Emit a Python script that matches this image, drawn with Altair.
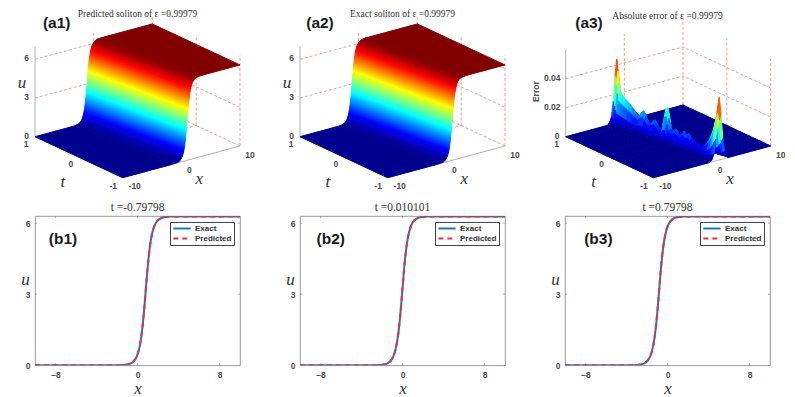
import altair as alt

# ---------- values ----------
profile_offset = [-3.0, -2.2, -1.8, -1.5, -1.3, -1.15, -1.0, -0.9, -0.83, -0.76, -0.70, -0.65, -0.60, -0.56, -0.52,
                  -0.48, -0.45, -0.42, -0.39, -0.36, -0.33, -0.30, -0.28, -0.26, -0.24, -0.22, -0.20, -0.18, -0.16,
                  -0.14, -0.12, -0.10, -0.08, -0.06, -0.04, -0.02, 0.0, 0.02, 0.04, 0.06, 0.08, 0.10, 0.12, 0.14,
                  0.16, 0.18, 0.20, 0.22, 0.24, 0.26, 0.28, 0.30, 0.33, 0.36, 0.39, 0.42, 0.45, 0.48, 0.52, 0.56,
                  0.60, 0.65, 0.70, 0.76, 0.83, 0.90, 1.0, 1.15, 1.3, 1.5, 1.8, 2.2, 3.0]
profile_u = [0.001, 0.010, 0.031, 0.069, 0.119, 0.180, 0.268, 0.351, 0.424, 0.513, 0.601, 0.685, 0.781, 0.868, 0.963,
             1.068, 1.152, 1.244, 1.343, 1.448, 1.556, 1.674, 1.756, 1.840, 1.928, 2.018, 2.110, 2.205, 2.304,
             2.403, 2.504, 2.608, 2.713, 2.819, 2.926, 3.034, 3.142, 3.250, 3.357, 3.464, 3.570, 3.675, 3.779, 3.880,
             3.979, 4.078, 4.173, 4.265, 4.355, 4.443, 4.527, 4.609, 4.727, 4.835, 4.940, 5.039, 5.131, 5.215, 5.320, 5.415,
             5.502, 5.598, 5.682, 5.770, 5.859, 5.932, 6.015, 6.103, 6.164, 6.214, 6.252, 6.273, 6.282]
u_left = 0.0
u_right = 6.283
front_centre = 1.0     # riser position at t = -1
back_centre = -1.1     # riser position at t = 1
slice_centres = [0.80, -0.02, -0.82]
slice_titles = ["t =-0.79798", "t =0.010101", "t =0.79798"]
surface_titles = ["Predicted soliton of ε =0.99979", "Exact soliton of ε =0.99979", "Absolute error of ε =0.99979"]

ridge_t = [1.0, 0.98, 0.96, 0.93, 0.88, 0.82, 0.75, 0.68, 0.62, 0.56, 0.51, 0.47, 0.43, 0.38, 0.33, 0.29, 0.25, 0.20,
           0.16, 0.11, 0.07, 0.04, 0.01, -0.01, -0.04, -0.09, -0.15, -0.20, -0.25, -0.31, -0.36, -0.40, -0.45, -0.52,
           -0.58, -0.64, -0.70, -0.76, -0.82, -0.88, -0.93, -0.97, -1.0]
ridge_x = [-1.3, -1.27, -1.25, -1.22, -1.15, -1.08, -1.0, -0.9, -0.82, -0.74, -0.67, -0.62, -0.57, -0.5, -0.44, -0.38,
           -0.33, -0.26, -0.21, -0.14, -0.09, -0.05, -0.01, 0.01, 0.05, 0.12, 0.2, 0.26, 0.33, 0.41, 0.47, 0.52, 0.59,
           0.68, 0.76, 0.84, 0.92, 0.99, 1.06, 1.13, 1.18, 1.2, 1.22]
ridge_err = [0.044, 0.036, 0.028, 0.022, 0.020, 0.018, 0.0165, 0.014, 0.012, 0.0105, 0.0135, 0.015, 0.012, 0.0085,
             0.0085, 0.0105, 0.0115, 0.009, 0.007, 0.008, 0.014, 0.022, 0.023, 0.016, 0.009, 0.008, 0.0105, 0.0085,
             0.0075, 0.011, 0.0085, 0.0105, 0.008, 0.0065, 0.0055, 0.0045, 0.006, 0.009, 0.013, 0.019, 0.027, 0.036, 0.043]
ridge_offset = [-1.6, -1.2, -0.9, -0.6, -0.3, 0.0, 0.3, 0.6, 0.9, 1.2, 1.6]
ridge_shape = [0.0, 0.04, 0.12, 0.35, 0.75, 1.0, 0.75, 0.35, 0.12, 0.04, 0.0]

jet_stops = [0.0, 0.125, 0.375, 0.625, 0.875, 1.0]
jet_colors = ["#00008f", "#0000ff", "#00ffff", "#ffff00", "#ff0000", "#800000"]

# ---------- layout / style ----------
PW, PH_TOP, PH_BOT = 205, 154, 149.3
TOP_Y0, TOP_Y1 = 23, 177
SANS, SERIF = "Liberation Sans", "Liberation Serif"
TICK_COLOR = "#4a4a4a"
GRID_COLOR = "#dc8a8a"
AXIS_COLOR = "#a8a8a8"


def project(x, t, z, zs, dx=0.0):
    return (87.7 + 5.865 * (x + 10) - 43.85 * (t + 1) + dx,
            176.7 - 1.585 * (x + 10) - 20.5 * (t + 1) - z * zs)


def quad_rows(corners, key, v):
    xs = sorted({round(c[0], 3) for c in corners})
    rows = []
    for sx in xs:
        ys = []
        n = len(corners)
        for i in range(n):
            (x0, y0), (x1, y1) = corners[i], corners[(i + 1) % n]
            lo, hi = min(x0, x1) - 0.002, max(x0, x1) + 0.002
            if lo <= sx <= hi:
                if abs(x1 - x0) < 0.002:
                    ys += [y0, y1]
                else:
                    ys.append(y0 + (y1 - y0) * (sx - x0) / (x1 - x0))
        if ys:
            rows.append({"px": sx, "y0": round(min(ys), 3), "y1": round(max(ys), 3), "k": key, "v": round(v, 5)})
    return rows


def px_scale():
    return alt.Scale(domain=[0, PW], range=[0, PW], nice=False, zero=False)


def py_scale():
    return alt.Scale(domain=[TOP_Y1, TOP_Y0], nice=False, zero=False)


def surface_layer(rows, vmax):
    cs = alt.Scale(domain=[s * vmax for s in jet_stops], range=jet_colors, interpolate="rgb", clamp=True)
    return alt.Chart(alt.Data(values=rows)).mark_area(strokeWidth=1.0, line=False, clip=False, opacity=1).encode(
        x=alt.X("px:Q", scale=px_scale(), axis=None),
        y=alt.Y("y0:Q", scale=py_scale(), axis=None),
        y2="y1:Q",
        detail="k:N",
        color=alt.Color("v:Q", scale=cs, legend=None),
        stroke=alt.Stroke("v:Q", scale=cs, legend=None),
    )


def wall_lines(levels, ztop, zs, dx):
    grid, axis = [], []

    def add(store, key, pts):
        for p in pts:
            X, Y = project(p[0], p[1], p[2], zs, dx)
            store.append({"px": X, "py": Y, "k": key})

    for i, z in enumerate(levels):
        add(grid, f"z{i}", [(-10, 1, z), (10, 1, z), (10, -1, z)])
    add(grid, "v1", [(0, 1, 0), (0, 1, ztop)])
    add(grid, "v2", [(10, 1, 0), (10, 1, ztop)])
    add(grid, "v3", [(10, 0, 0), (10, 0, ztop)])
    add(grid, "v4", [(10, -1, 0), (10, -1, ztop)])
    add(grid, "f1", [(-10, 0, 0), (10, 0, 0)])
    add(grid, "f2", [(0, 1, 0), (0, -1, 0)])
    add(axis, "a1", [(-10, 1, 0), (-10, 1, ztop)])
    add(axis, "a2", [(-10, 1, 0), (-10, -1, 0), (10, -1, 0)])
    return grid, axis


def line_layer(rows, color, dash, width):
    kw = {"strokeDash": dash} if dash else {}
    return alt.Chart(alt.Data(values=rows)).mark_line(color=color, strokeWidth=width, **kw).encode(
        x=alt.X("px:Q", scale=px_scale(), axis=None),
        y=alt.Y("py:Q", scale=py_scale(), axis=None),
        detail="k:N",
        order="i:Q",
    )


def text_layer(rows, **style):
    return alt.Chart(alt.Data(values=rows)).mark_text(**style).encode(
        x=alt.X("px:Q", scale=px_scale(), axis=None),
        y=alt.Y("py:Q", scale=py_scale(), axis=None),
        text="s:N",
    )


def surface_panel(rows, vmax, levels, level_labels, ztop, zs, dx, title, tag, tag_x, u_label, u_font):
    grid, axis = wall_lines(levels, ztop, zs, dx)
    for store in (grid, axis):
        for i, r in enumerate(store):
            r["i"] = i
    def at(x, t, z, ox, oy, s):
        X, Y = project(x, t, z, zs, dx)
        return {"px": X + ox, "py": Y + oy, "s": s}
    ticks = [at(-10, 1, z, -8.5 - (5 if len(s) > 1 else 0), -1, s) for z, s in zip(levels, level_labels)]
    ticks += [at(-10, 1, 0, -9, 7.5, "1"), at(-10, 0, 0, -8, 7, "0"), at(-10, -1, 0, -9.5, 8.3, "-1"),
              at(-10, -1, 0, 12, 8.3, "-10"), at(0, -1, 0, 8, 8, "0"), at(10, -1, 0, 10, 9, "10")]
    letters = [at(-10, 0, 0, -16, 25, "t"), at(0, -1, 0, 18, 17, "x")]
    layers = [
        line_layer(grid, GRID_COLOR, [3, 2], 0.8),
        line_layer(axis, AXIS_COLOR, None, 0.9),
        surface_layer(rows, vmax),
        text_layer(ticks, font=SANS, fontSize=8.5, fontWeight="bold", color=TICK_COLOR),
        text_layer(letters, font=SERIF, fontSize=17, fontStyle="italic", color="#333333"),
        text_layer([{"px": tag_x, "py": 21.7, "s": tag}], font=SANS, fontSize=15.5, fontWeight="bold", color="#1a1a1a"),
    ]
    if u_font == "serif":
        layers.append(text_layer([at(-10, 1, 4, -13, -2, u_label)], font=SERIF, fontSize=17, fontStyle="italic", color="#333333"))
    else:
        layers.append(text_layer([{"px": -29.3, "py": 90.7, "s": u_label}], font=SANS, fontSize=8.5, fontWeight="bold",
                                 color=TICK_COLOR, angle=270))
    return alt.layer(*layers).properties(
        width=PW, height=PH_TOP,
        title=alt.TitleParams(title, font=SERIF, fontSize=9.5, fontWeight="normal", color="#333333", offset=-5),
    )


def kink_rows():
    us = [u_left] + profile_u + [u_right]
    fr = [-10.0] + [front_centre + o for o in profile_offset] + [10.0]
    bk = [-10.0] + [back_centre + o for o in profile_offset] + [10.0]
    rows = []
    for i in range(len(us) - 2, -1, -1):
        corners = [project(fr[i], -1, us[i], 12.9), project(fr[i + 1], -1, us[i + 1], 12.9),
                   project(bk[i + 1], 1, us[i + 1], 12.9), project(bk[i], 1, us[i], 12.9)]
        rows += quad_rows(corners, f"s{i}", (us[i] + us[i + 1]) / 2)
    return rows


def error_rows(dx):
    zs = 1450
    rows = []
    xs_row = []
    for c in ridge_x:
        xs_row.append([-10.0] + [c + o for o in ridge_offset] + [10.0])
    shape = [0.0] + ridge_shape + [0.0]
    n = len(shape)
    for j in range(len(ridge_t) - 1):
        for i in range(n - 2, -1, -1):
            z = [ridge_err[j] * shape[i], ridge_err[j] * shape[i + 1],
                 ridge_err[j + 1] * shape[i + 1], ridge_err[j + 1] * shape[i]]
            corners = [project(xs_row[j][i], ridge_t[j], z[0], zs, dx),
                       project(xs_row[j][i + 1], ridge_t[j], z[1], zs, dx),
                       project(xs_row[j + 1][i + 1], ridge_t[j + 1], z[2], zs, dx),
                       project(xs_row[j + 1][i], ridge_t[j + 1], z[3], zs, dx)]
            rows += quad_rows(corners, f"m{j}_{i}", sum(z) / 4)
    return rows


def slice_panel(centre, title, tag, tag_x):
    rows = []
    for name in ["Exact", "Predicted"]:
        xs = [-10.0] + [centre + o for o in profile_offset] + [10.0]
        us = [u_left] + profile_u + [u_right]
        rows += [{"x": a, "u": b, "series": name} for a, b in zip(xs, us)]
    xsc = alt.Scale(domain=[-10, 10], nice=False, zero=False)
    ysc = alt.Scale(domain=[0, 6.3], nice=False, zero=False)
    xaxis = alt.Axis(values=[-8, 0, 8], ticks=False, domain=False, grid=False, labelFont=SANS,
                     labelFontSize=8.5, labelFontWeight="bold", labelColor=TICK_COLOR, labelPadding=5, title="x",
                     titleFont=SERIF, titleFontSize=17, titleFontStyle="italic", titleFontWeight="normal",
                     titleColor="#333333", titlePadding=2)
    yaxis = alt.Axis(values=[0, 3, 6], ticks=False, domain=False, grid=False, labelFont=SANS,
                     labelFontSize=8.5, labelFontWeight="bold", labelColor=TICK_COLOR, labelPadding=5, title="u",
                     titleFont=SERIF, titleFontSize=17, titleFontStyle="italic", titleFontWeight="normal",
                     titleColor="#333333", titleAngle=0, titleX=-10, titleY=72)
    legend = alt.Legend(title=None, orient="top-right", offset=6, strokeColor="#444444",
                        fillColor="white", padding=2, labelFont=SANS, labelFontSize=8,
                        labelFontWeight="bold", labelColor="#333333", symbolType="stroke",
                        symbolSize=300, symbolStrokeWidth=2, labelOffset=3, rowPadding=1, clipHeight=9)
    line = alt.Chart(alt.Data(values=rows)).mark_line(strokeWidth=2, clip=True).encode(
        x=alt.X("x:Q", scale=xsc, axis=xaxis),
        y=alt.Y("u:Q", scale=ysc, axis=yaxis),
        color=alt.Color("series:N", scale=alt.Scale(domain=["Exact", "Predicted"], range=["#1f77b4", "#ee2f3a"]),
                        legend=legend),
        strokeDash=alt.StrokeDash("series:N", scale=alt.Scale(domain=["Exact", "Predicted"], range=[[1, 0], [5, 4]]),
                                  legend=legend),
    )
    xt = [{"x": v, "u": e} for v in [-8, 0, 8] for e in [0, 6.3]]
    yt = [{"x": e, "u": v} for v in [0, 3, 6] for e in [-10, 10]]
    tick_x = alt.Chart(alt.Data(values=xt)).mark_tick(orient="vertical", size=4, thickness=0.7, color="#666666", clip=True).encode(
        x=alt.X("x:Q", scale=xsc, axis=xaxis), y=alt.Y("u:Q", scale=ysc, axis=yaxis))
    tick_y = alt.Chart(alt.Data(values=yt)).mark_tick(orient="horizontal", size=4, thickness=0.7, color="#666666", clip=True).encode(
        x=alt.X("x:Q", scale=xsc, axis=xaxis), y=alt.Y("u:Q", scale=ysc, axis=yaxis))
    label = alt.Chart(alt.Data(values=[{"x": tag_x, "u": 5.33, "s": tag}])).mark_text(
        font=SANS, fontSize=15.5, fontWeight="bold", color="#1a1a1a").encode(
        x=alt.X("x:Q", scale=xsc, axis=xaxis), y=alt.Y("u:Q", scale=ysc, axis=yaxis), text="s:N")
    return alt.layer(line, tick_x, tick_y, label).properties(
        width=PW, height=PH_BOT,
        view=alt.ViewBackground(stroke="#808080", strokeWidth=0.8),
        title=alt.TitleParams(title, font=SERIF, fontSize=11.5, fontWeight="normal", color="#333333", offset=3),
    )


kink = kink_rows()
a1 = surface_panel(kink, 6.283, [0, 3, 6], ["0", "3", "6"], 7, 12.9, 0, surface_titles[0], "(a1)", 21.7, "u", "serif")
a2 = surface_panel(kink, 6.283, [0, 3, 6], ["0", "3", "6"], 7, 12.9, 0, surface_titles[1], "(a2)", 20, "u", "serif")
a3 = surface_panel(error_rows(0.7), 0.044, [0, 0.02, 0.04], ["0", "0.02", "0.04"], 0.06, 1450, 0.7, surface_titles[2],
                   "(a3)", 24, "Error", "sans")

b1 = slice_panel(slice_centres[0], slice_titles[0], "(b1)", -7.27)
b2 = slice_panel(slice_centres[1], slice_titles[1], "(b2)", -7.0)
b3 = slice_panel(slice_centres[2], slice_titles[2], "(b3)", -6.74)

chart = alt.concat(a1, a2, a3, b1, b2, b3, columns=3, spacing={"row": 38, "column": 60}, bounds="flush").resolve_scale(
    color="independent", stroke="independent", strokeDash="independent"
).properties(
    padding={"left": 9, "top": 0, "right": 0, "bottom": 0}, background="white"
).configure_view(stroke=None)

chart.save("out.html", embed_options={"renderer": "svg", "actions": False})
